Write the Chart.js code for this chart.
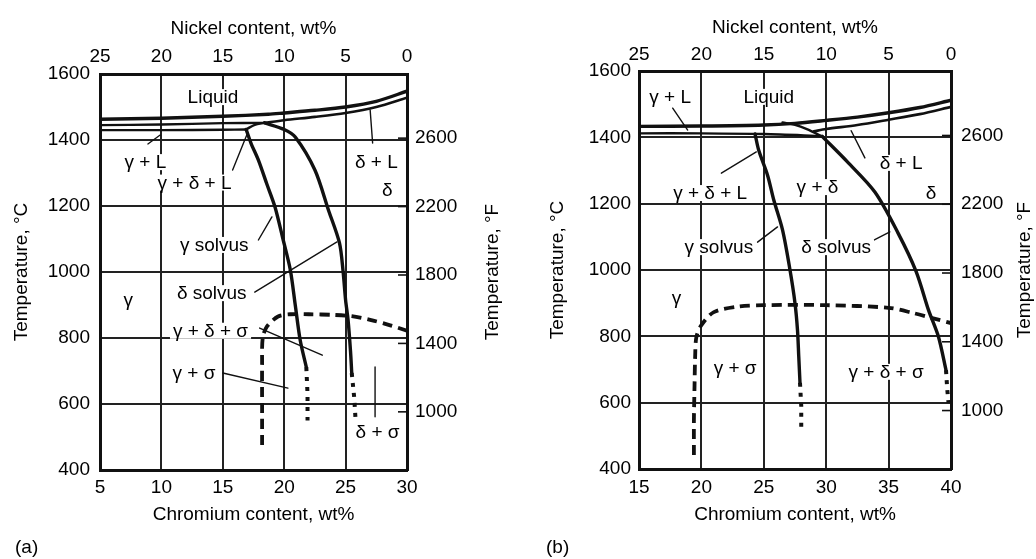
<!DOCTYPE html>
<html>
<head>
<meta charset="utf-8">
<title>Fe-Cr-Ni sections</title>
<script src="https://cdn.jsdelivr.net/npm/chart.js@4.4.1/dist/chart.umd.min.js"></script>
<style>
  html, body { margin: 0; padding: 0; background: #fff; }
  #wrap { position: relative; width: 1036px; height: 559px; }
  canvas { position: absolute; top: 0; }
  #chartA { left: 0; }
  #chartB { left: 518px; }
</style>
</head>
<body>
<div id="wrap">
  <canvas id="chartA" width="518" height="559"></canvas>
  <canvas id="chartB" width="518" height="559"></canvas>
</div>
<script>
// ---- shared tick labels ----
var tempTicksF = [1000, 1400, 1800, 2200, 2600];

// ---- (a) : Cr 5-30 wt% ----
var liquidusA      = [[5,1463],[10,1466],[15,1472],[18.7,1478],[20,1482],[22.5,1490],[25,1500],[27.5,1517],[30,1548]];
var deltaSolidusA  = [[18.4,1452],[20,1460],[22.5,1470],[25,1482],[27.5,1500],[30,1528]];
var gammaSolidusA  = [[5,1445],[10,1447],[15,1451],[18.4,1452]];
var gammaLowerA    = [[5,1430],[10,1430],[15,1431],[16.9,1432]];
var tieA           = [[16.9,1432],[17.6,1446],[18.4,1452]];
var gammaSolvusA   = [[16.9,1432],[17.3,1390],[17.9,1339],[18.6,1265],[19.25,1197],[19.9,1100],[20.5,1006],[20.9,900],[21.3,794],[21.8,712]];
var gammaSolvusDotA = [[21.8,712],[21.9,630],[21.9,550]];
var deltaSolvusA   = [[18.4,1452],[20,1432],[20.9,1409],[22.5,1309],[23.6,1188],[24.5,1088],[24.8,1000],[25.0,915],[25.2,855],[25.4,760],[25.5,694]];
var deltaSolvusDotA = [[25.5,694],[25.7,620],[25.8,560]];
var sigmaA         = [[18.2,476],[18.2,600],[18.2,720],[18.25,800],[18.6,835],[19.5,865],[20.5,872],[22,872],[24,870],[25.5,866],[27,855],[28.5,840],[30,822]];
var leadersA = [
  [[8.9,1388],[9.9,1415]],
  [[15.8,1309],[17.0,1420]],
  [[27.2,1391],[27.0,1491]],
  [[17.9,1097],[19.0,1167]],
  [[17.6,939],[24.3,1091]],
  [[18.0,830],[23.1,748]],
  [[15,694],[20.3,648]],
  [[27.4,712],[27.4,561]]
];
var labelsA = [
  ['Liquid', 14.2, 1530], ['γ + L', 8.7, 1333], ['γ + δ + L', 12.7, 1271],
  ['δ + L', 27.5, 1333], ['δ', 28.4, 1248], ['γ solvus', 14.3, 1082],
  ['δ solvus', 14.1, 936], ['γ', 7.3, 915], ['γ + δ + σ', 14.0, 822],
  ['γ + σ', 12.65, 694], ['δ + σ', 27.6, 515]
];

// ---- (b) : Cr 15-40 wt% ----
var liquidusB      = [[15,1433],[20,1434],[25,1437],[27.5,1442],[30,1451],[32.5,1461],[35,1474],[37.5,1490],[40,1512]];
var deltaSolidusB  = [[29.0,1418],[30,1425],[32.5,1437],[35,1453],[37.5,1470],[40,1492]];
var threePhaseB    = [[26.5,1445],[27.5,1438],[28.5,1424],[29.7,1402]];
var gammaSolidusB  = [[15,1412],[20,1412],[25,1410],[29.7,1404]];
var gammaSolvusB   = [[24.3,1410],[24.6,1360],[25.3,1286],[25.8,1211],[26.5,1121],[27.1,1000],[27.5,900],[27.7,819],[27.8,740],[27.9,660]];
var gammaSolvusDotB = [[27.9,660],[28.0,590],[28.0,524]];
var deltaSolvusB   = [[29.7,1402],[31.7,1326],[33.9,1235],[35.75,1112],[37.2,996],[38.2,879],[39.0,798],[39.6,698]];
var deltaSolvusDotB = [[39.6,698],[39.7,640],[39.8,600]];
var sigmaB         = [[19.4,442],[19.4,550],[19.45,650],[19.5,740],[19.6,798],[20,834],[21,873],[23,890],[25,894],[30,894],[35,886],[37,870],[38.5,855],[40,840]];
var leadersB = [
  [[17.7,1488],[18.9,1422]],
  [[21.6,1292],[24.4,1356]],
  [[33.1,1338],[32.0,1420]],
  [[24.5,1084],[26.1,1130]],
  [[33.35,1081],[35.1,1115]]
];
var labelsB = [
  ['γ + L', 17.5, 1522], ['Liquid', 25.4, 1522], ['γ + δ + L', 20.7, 1232],
  ['γ + δ', 29.3, 1250], ['δ + L', 36.0, 1323], ['δ', 38.4, 1232],
  ['γ solvus', 21.4, 1069], ['δ solvus', 30.8, 1069], ['γ', 18.0, 916],
  ['γ + σ', 22.7, 705], ['γ + δ + σ', 34.8, 693]
];

var INK = '#000';
var FAMILY = "'Liberation Sans', Arial, Helvetica, sans-serif";
Chart.defaults.font.family = FAMILY;
Chart.defaults.font.size = 19;
Chart.defaults.color = INK;

function curve(points, extra) {
  return Object.assign({
    data: points.map(function (p) { return { x: p[0], y: p[1] }; }),
    showLine: true, fill: false, pointRadius: 0,
    borderColor: '#111', borderWidth: 3, tension: 0.3,
    borderCapStyle: 'round'
  }, extra || {});
}

function fixSize(size) {
  return function (s) {
    if (s.isHorizontal()) s.height = size; else s.width = size;
    s.paddingLeft = s.paddingRight = s.paddingTop = s.paddingBottom = 0;
  };
}

function plain(v) { return String(v); }

// labels, right-hand °F title and inner ticks, (a)/(b) tag
function textPlugin(labels, fTitleX, tag, tagX) {
  return {
    id: 'phaseText',
    afterDatasetsDraw: function (chart) {
      var ctx = chart.ctx, xs = chart.scales.x, ys = chart.scales.y;
      ctx.save();
      ctx.font = '19px ' + FAMILY;
      ctx.textAlign = 'center';
      ctx.textBaseline = 'middle';
      labels.forEach(function (l) {
        var px = xs.getPixelForValue(l[1]), py = ys.getPixelForValue(l[2]);
        var w = ctx.measureText(l[0]).width;
        ctx.fillStyle = '#fff';
        ctx.fillRect(px - w / 2 - 3, py - 8, w + 6, 16);
        ctx.fillStyle = INK;
        ctx.fillText(l[0], px, py + 1);
      });
      ctx.restore();
    },
    afterDraw: function (chart) {
      var ctx = chart.ctx, ca = chart.chartArea, yf = chart.scales.yF;
      ctx.save();
      ctx.strokeStyle = '#111';
      ctx.lineWidth = 1.6;
      tempTicksF.forEach(function (v) {
        var py = yf.getPixelForValue(v);
        ctx.beginPath();
        ctx.moveTo(ca.right - 9, py);
        ctx.lineTo(ca.right, py);
        ctx.stroke();
      });
      ctx.fillStyle = INK;
      ctx.font = '19px ' + FAMILY;
      ctx.textAlign = 'center';
      ctx.textBaseline = 'middle';
      ctx.translate(fTitleX, (ca.top + ca.bottom) / 2);
      ctx.rotate(-Math.PI / 2);
      ctx.fillText('Temperature, °F', 0, 0);
      ctx.restore();
      ctx.save();
      ctx.fillStyle = INK;
      ctx.font = '19px ' + FAMILY;
      ctx.textAlign = 'left';
      ctx.textBaseline = 'middle';
      ctx.fillText(tag, tagX, 548);
      ctx.restore();
    }
  };
}

function buildChart(id, cfg) {
  var datasets = [
    curve(cfg.liquidus, { borderWidth: 3.4 }),
    curve(cfg.deltaSolidus, { borderWidth: 2.6 })
  ];
  cfg.extra.forEach(function (pts) { datasets.push(curve(pts, { borderWidth: 2.4 })); });
  datasets.push(curve(cfg.gammaSolvus, { borderWidth: 3.4 }));
  datasets.push(curve(cfg.deltaSolvus, { borderWidth: 3.4 }));
  datasets.push(curve(cfg.gammaSolvusDot, { borderWidth: 4, borderDash: [4, 6], tension: 0, borderCapStyle: 'butt' }));
  datasets.push(curve(cfg.deltaSolvusDot, { borderWidth: 4, borderDash: [4, 6], tension: 0, borderCapStyle: 'butt' }));
  datasets.push(curve(cfg.sigma, { borderWidth: 3.8, borderDash: [10, 6], borderCapStyle: 'butt' }));
  cfg.leaders.forEach(function (pts) { datasets.push(curve(pts, { borderWidth: 1.4, tension: 0 })); });

  return new Chart(document.getElementById(id), {
    type: 'scatter',
    data: { datasets: datasets },
    options: {
      responsive: false,
      animation: false,
      events: [],
      layout: { padding: 0 },
      plugins: { legend: { display: false }, tooltip: { enabled: false } },
      scales: {
        x: {
          type: 'linear', position: 'bottom', min: cfg.crMin, max: cfg.crMin + 25,
          afterFit: fixSize(cfg.bottomH),
          ticks: { stepSize: 5, padding: cfg.bottomPad, callback: plain },
          grid: { color: '#222', lineWidth: 2, drawTicks: false },
          border: { color: '#111', width: 3 },
          title: { display: true, text: 'Chromium content, wt%', padding: { top: 0, bottom: 33 } }
        },
        xTop: {
          type: 'linear', position: 'top', min: 0, max: 25, reverse: true,
          afterFit: fixSize(cfg.topH),
          ticks: { stepSize: 5, padding: cfg.topPad, callback: plain },
          grid: { display: false, drawTicks: false },
          border: { color: '#111', width: 3 },
          title: { display: true, text: 'Nickel content, wt%', padding: { top: cfg.topTitlePad, bottom: 0 } }
        },
        y: {
          type: 'linear', position: 'left', min: 400, max: 1600,
          afterFit: fixSize(cfg.leftW),
          ticks: { stepSize: 200, padding: cfg.leftPad, callback: plain },
          grid: { color: '#222', lineWidth: 2, drawTicks: false },
          border: { color: '#111', width: 3 },
          title: { display: true, text: 'Temperature, °C', padding: { top: cfg.leftTitlePad, bottom: 0 } }
        },
        yF: {
          type: 'linear', position: 'right', min: 660, max: 2975,
          afterFit: fixSize(cfg.rightW),
          afterBuildTicks: function (s) { s.ticks = tempTicksF.map(function (v) { return { value: v }; }); },
          ticks: { padding: cfg.rightPad, callback: plain },
          grid: { display: false, drawTicks: false },
          border: { color: '#111', width: 3 }
        }
      }
    },
    plugins: [textPlugin(cfg.labels, cfg.fTitleX, cfg.tag, cfg.tagX)]
  });
}

buildChart('chartA', {
  crMin: 5,
  liquidus: liquidusA, deltaSolidus: deltaSolidusA,
  extra: [gammaSolidusA, gammaLowerA, tieA],
  gammaSolvus: gammaSolvusA, deltaSolvus: deltaSolvusA,
  gammaSolvusDot: gammaSolvusDotA, deltaSolvusDot: deltaSolvusDotA,
  sigma: sigmaA, leaders: leadersA, labels: labelsA,
  leftW: 100, rightW: 111, topH: 74, bottomH: 89,
  leftPad: 10, rightPad: 8, topPad: 6, bottomPad: 6,
  topTitlePad: 17, leftTitlePad: 10, fTitleX: 493, tag: '(a)', tagX: 15
});

buildChart('chartB', {
  crMin: 15,
  liquidus: liquidusB, deltaSolidus: deltaSolidusB,
  extra: [gammaSolidusB, threePhaseB],
  gammaSolvus: gammaSolvusB, deltaSolvus: deltaSolvusB,
  gammaSolvusDot: gammaSolvusDotB, deltaSolvusDot: deltaSolvusDotB,
  sigma: sigmaB, leaders: leadersB, labels: labelsB,
  leftW: 121, rightW: 85, topH: 71, bottomH: 90,
  leftPad: 8, rightPad: 10, topPad: 5, bottomPad: 7,
  topTitlePad: 16, leftTitlePad: 28, fTitleX: 507, tag: '(b)', tagX: 28
});
</script>
</body>
</html>
